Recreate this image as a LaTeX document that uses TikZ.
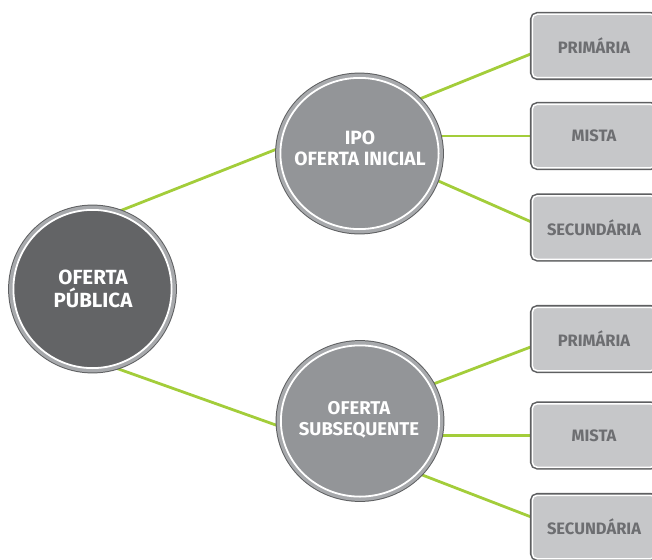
\documentclass[tikz,border=0pt]{standalone}
\usepackage{fontspec}
\setmainfont{Fira Sans}
\usetikzlibrary{shapes.geometric,backgrounds}
\definecolor{lnk}{HTML}{A3CD3A}
\definecolor{bigfill}{HTML}{636466}
\definecolor{midfill}{HTML}{939598}
\definecolor{ringdark}{HTML}{5E5F61}
\definecolor{ringgray}{HTML}{A7A9AC}
\definecolor{boxfill}{HTML}{C6C7C9}
\definecolor{boxtext}{HTML}{6D6E71}
\begin{document}
\begin{tikzpicture}[x=1pt,y=-1pt,
  ringnode/.style={ellipse, inner sep=0pt, fill=#1, draw=white, line width=1.8pt,
    preaction={draw=ringdark, line width=10.6pt},
    preaction={draw=ringgray, line width=8.6pt}},
  circtext/.style={inner sep=0pt, text=white, align=center, font=\bfseries#1},
  optbox/.style={rectangle, rounded corners=5pt, minimum width=123.5pt, minimum height=63.5pt,
    inner sep=0pt, fill=boxfill, draw=white, line width=1.5pt,
    preaction={draw=ringdark, line width=4.6pt},
    text=boxtext, font=\bfseries\fontsize{16.5}{19}\selectfont},
  link/.style={draw=lnk, line width=2.8pt}
]
\path[use as bounding box, clip] (0,0) rectangle (652,559);

% circles
\node[ringnode=bigfill, minimum width=158.2pt, minimum height=158.2pt] (big) at (92.5,289) {};
\node[ringnode=midfill, minimum width=158.2pt, minimum height=151.2pt] (ipo) at (359.5,153.5) {};
\node[ringnode=midfill, minimum width=158.2pt, minimum height=151.2pt] (sub) at (360,421) {};

\node[circtext=\fontsize{20.5}{23}\selectfont] (bigt) at (93,288.5) {OFERTA\\PÚBLICA};
\node[circtext=\fontsize{19.2}{21.5}\selectfont] (ipot) at (360,148.5) {IPO\\OFERTA INICIAL};
\node[circtext=\fontsize{18.5}{21.5}\selectfont] (subt) at (359,420) {OFERTA\\SUBSEQUENTE};

% boxes
\node[optbox] (b1) at (594,46) {PRIMÁRIA};
\node[optbox] (b2) at (594,136) {MISTA};
\node[optbox] (b3) at (594,227.5) {SECUNDÁRIA};
\node[optbox] (b4) at (594,339) {PRIMÁRIA};
\node[optbox] (b5) at (594,435.5) {MISTA};
\node[optbox] (b6) at (594,527) {SECUNDÁRIA};

% connectors
\begin{pgfonlayer}{background}
\draw[link] (big.73) -- (ipo.176.6);
\draw[link] (big.-76) -- (sub.184.7);
\draw[link] (ipo.43.4) -- (b1.187);
\draw[link] (ipo.center |- b2.west) -- (b2.west);
\draw[link] (ipo.-19.8) -- (b3.175);
\draw[link] (sub.27.5) -- (b4.187);
\draw[link] (sub.center |- b5.west) -- (b5.west);
\draw[link] (sub.-42.6) -- (b6.171);
\end{pgfonlayer}
\end{tikzpicture}
\end{document}
